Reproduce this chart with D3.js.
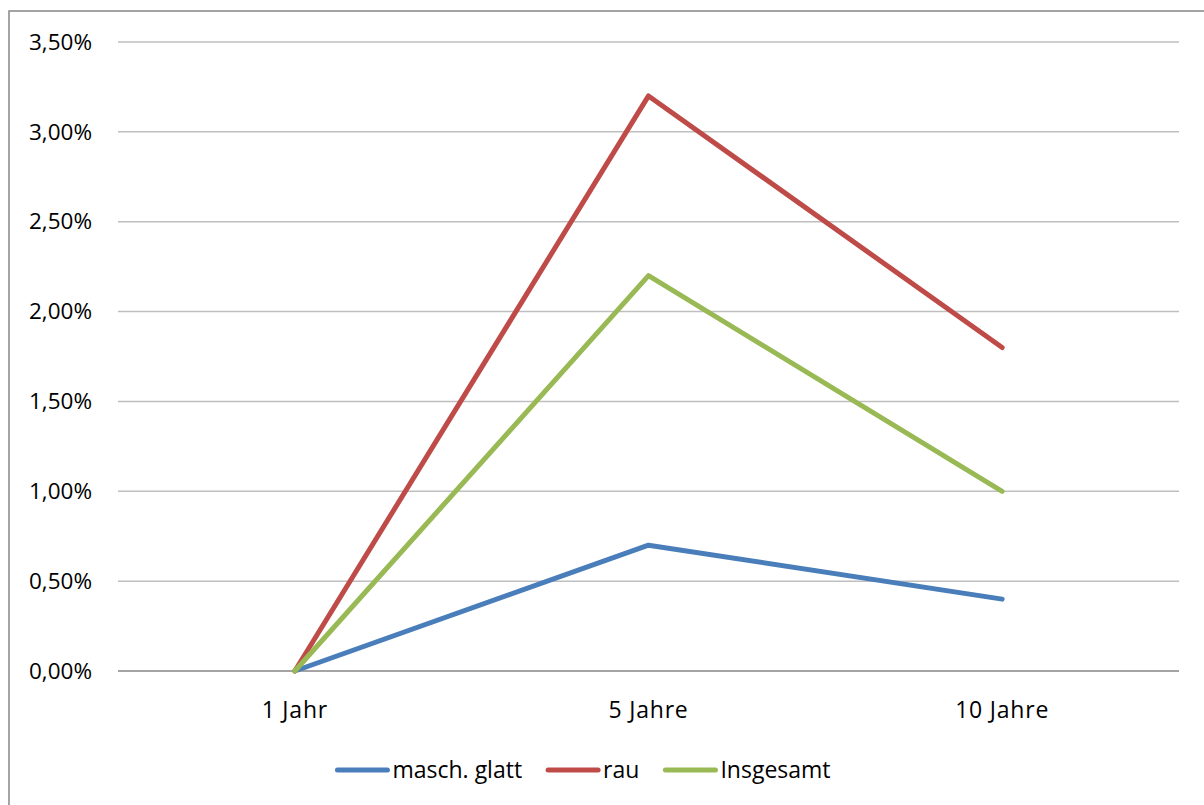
<!DOCTYPE html>
<html>
<head>
<meta charset="utf-8">
<script src="https://cdn.jsdelivr.net/npm/d3@7"></script>
<style>
  html, body { margin: 0; padding: 0; background: #fff; }
  svg { display: block; font-family: "Open Sans", sans-serif; }
</style>
</head>
<body>
<svg id="chart" width="1204" height="805"></svg>
<script>
// Categories and series (values in percent)
const categories = ["1 Jahr", "5 Jahre", "10 Jahre"];
const seriesNames = ["masch. glatt", "rau", "Insgesamt"];
const maschGlatt = [0.0, 0.7, 0.4];
const rau = [0.0, 3.2, 1.8];
const insgesamt = [0.0, 2.2, 1.0];
const yTicks = [0, 0.5, 1.0, 1.5, 2.0, 2.5, 3.0, 3.5];
const seriesColors = ["#4a7ebb", "#be4b48", "#98b954"];

const series = [maschGlatt, rau, insgesamt].map((v, i) => ({
  name: seriesNames[i], values: v, color: seriesColors[i]
}));

const svg = d3.select("#chart");
const fontFamily = "'Open Sans', sans-serif";

// Chart frame
svg.append("rect")
  .attr("x", 9).attr("y", 11)
  .attr("width", 1250).attr("height", 850)
  .attr("fill", "none").attr("stroke", "#868686").attr("stroke-width", 1.5);

const plot = { left: 118, right: 1179, top: 42, bottom: 671 };

const x = d3.scaleBand().domain(categories).range([plot.left, plot.right]);
const y = d3.scaleLinear().domain([0, 3.5]).range([plot.bottom, plot.top]);

const fmt = v => d3.format(".2f")(v).replace(".", ",") + "%";

// Y axis labels
const yAxis = d3.axisLeft(y).tickValues(yTicks).tickSize(0).tickFormat(fmt).tickPadding(0);
const gy = svg.append("g").attr("transform", `translate(${plot.left},0)`).call(yAxis);
gy.select(".domain").remove();
gy.selectAll("text")
  .attr("x", -26)
  .attr("font-family", fontFamily)
  .attr("font-size", 22.5)
  .attr("fill", "#000");

// Horizontal gridlines
svg.append("g").selectAll("line")
  .data(yTicks.filter(t => t > 0))
  .join("line")
  .attr("x1", plot.left).attr("x2", plot.right)
  .attr("y1", d => y(d)).attr("y2", d => y(d))
  .attr("stroke", "#bfbfbf").attr("stroke-width", 1.5);

// X axis
const xAxis = d3.axisBottom(x).tickSize(0).tickPadding(0);
const gx = svg.append("g").attr("transform", `translate(0,${plot.bottom})`).call(xAxis);
gx.select(".domain")
  .attr("stroke", "#868686").attr("stroke-width", 1.5)
  .attr("d", `M${plot.left},0H${plot.right}`);
gx.selectAll("text")
  .attr("y", 39)
  .attr("dy", "0.35em")
  .attr("font-family", fontFamily)
  .attr("font-size", 23)
  .attr("letter-spacing", 0.8)
  .attr("fill", "#000");

// Series lines
const line = d3.line()
  .x((d, i) => x(categories[i]) + x.bandwidth() / 2)
  .y(d => y(d));

svg.append("g").selectAll("path")
  .data(series)
  .join("path")
  .attr("d", d => line(d.values))
  .attr("fill", "none")
  .attr("stroke", d => d.color)
  .attr("stroke-width", 5)
  .attr("stroke-linejoin", "round")
  .attr("stroke-linecap", "round");

// Legend
const legend = svg.append("g").attr("transform", "translate(0,770)");
const swatch = 50, gapAfter = 5, gapBetween = 26;
const items = legend.selectAll("g").data(series).join("g");
items.append("line")
  .attr("x1", 0).attr("x2", swatch)
  .attr("stroke", d => d.color).attr("stroke-width", 5)
  .attr("stroke-linecap", "round");
items.append("text")
  .attr("x", swatch + gapAfter)
  .attr("dy", "0.35em")
  .attr("font-family", fontFamily)
  .attr("font-size", 23)
  .attr("fill", "#000")
  .text(d => d.name);

let widths = [];
items.each(function() {
  widths.push(swatch + gapAfter + d3.select(this).select("text").node().getComputedTextLength());
});
const total = d3.sum(widths) + gapBetween * (widths.length - 1);
let cx = 584 - total / 2;
items.attr("transform", (d, i) => {
  const t = `translate(${cx},0)`;
  cx += widths[i] + gapBetween;
  return t;
});
</script>
</body>
</html>
